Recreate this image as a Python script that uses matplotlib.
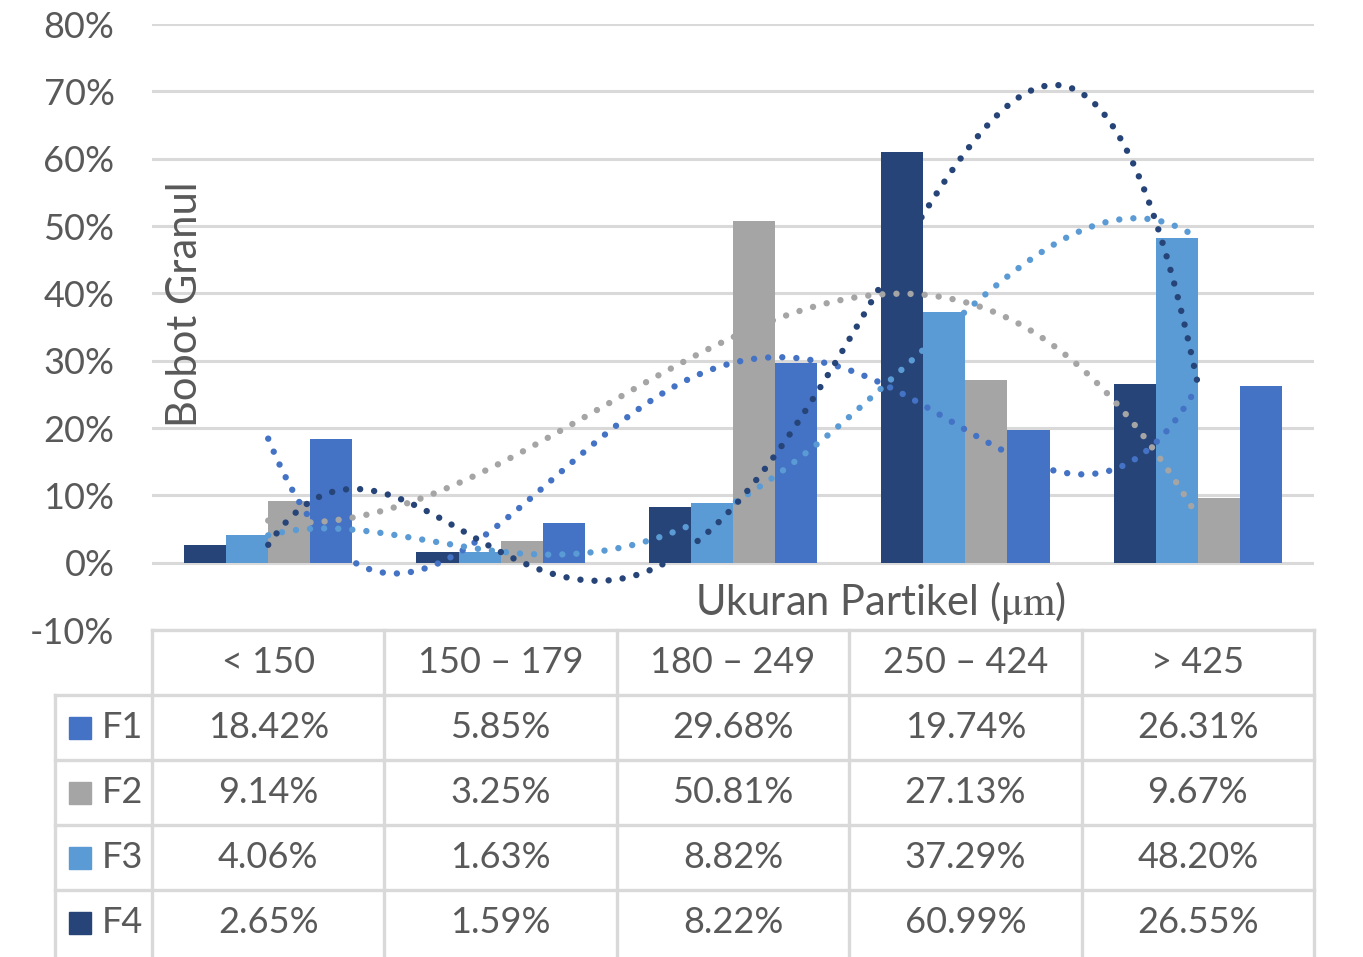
import numpy as np
import matplotlib.pyplot as plt
from matplotlib.lines import Line2D
from matplotlib.patches import Rectangle

plt.rcParams['font.family'] = ['Lato', 'DejaVu Sans']
plt.rcParams['mathtext.fontset'] = 'stix'

categories = ['< 150', '150 – 179', '180 – 249', '250 – 424', '> 425']
series_names = ['F1', 'F2', 'F3', 'F4']
f1 = [18.42, 5.85, 29.68, 19.74, 26.31]
f2 = [9.14, 3.25, 50.81, 27.13, 9.67]
f3 = [4.06, 1.63, 8.82, 37.29, 48.20]
f4 = [2.65, 1.59, 8.22, 60.99, 26.55]
colors = {'F1': '#4472C4', 'F2': '#A5A5A5', 'F3': '#5B9BD5', 'F4': '#264478'}
values = {'F1': f1, 'F2': f2, 'F3': f3, 'F4': f4}
# polynomial trendline order per series
trend_order = {'F1': 4, 'F2': 3, 'F3': 4, 'F4': 4}

txt = '#595959'
grid_c = '#D9D9D9'
fs = 26
W, H = 1363, 957
fig = plt.figure(figsize=(W / 100, H / 100), dpi=100)

L, R, T, B = 152, 1314, 24, 630
ax = fig.add_axes([L / W, 1 - B / H, (R - L) / W, (B - T) / H])
x = np.arange(1, 6)
bw = 0.181
# bars drawn left-to-right F4, F3, F2, F1
for i, name in enumerate(['F4', 'F3', 'F2', 'F1']):
    ax.bar(x + (i - 1.5) * bw, values[name], width=bw, color=colors[name], zorder=2)

xs = np.linspace(1, 5, 400)
for name in ['F1', 'F2', 'F3', 'F4']:
    coef = np.polyfit(x, values[name], trend_order[name])
    ax.plot(xs, np.polyval(coef, xs), color=colors[name], lw=4.6,
            linestyle=(0, (0.01, 2.2)), dash_capstyle='round', zorder=3)

ax.set_xlim(0.5, 5.5)
ax.set_ylim(-10, 80)
ax.set_yticks(range(-10, 81, 10))
ax.set_yticklabels([f'{v}%' for v in range(-10, 81, 10)], color=txt, fontsize=fs)
ax.set_xticks([])
ax.tick_params(axis='y', length=0, pad=27)
ax.grid(axis='y', color=grid_c, lw=2.2, zorder=0)
for s in ax.spines.values():
    s.set_visible(False)

fig.text(880 / W, 1 - 603 / H, r'Ukuran Partikel ($\mathrm{\mu m}$)', ha='center', va='center',
         fontsize=30, color=txt)
fig.text(185 / W, 1 - 304 / H, 'Bobot Granul', ha='center', va='center',
         rotation=90, fontsize=30, color=txt)

# data table
tab = fig.add_axes([0, 0, 1, 1])
tab.set_xlim(0, W)
tab.set_ylim(H, 0)
tab.axis('off')
col_edges = np.linspace(L, R, 6)
row_edges = np.linspace(B, 955, 6)
leg_l = 55
lw_t = 2.4
tab.add_line(Line2D([L, R], [B, B], color=grid_c, lw=lw_t))
for yv in row_edges[1:5]:
    tab.add_line(Line2D([leg_l, R], [yv, yv], color=grid_c, lw=lw_t))
for xv in col_edges:
    tab.add_line(Line2D([xv, xv], [B, H], color=grid_c, lw=lw_t))
tab.add_line(Line2D([leg_l, leg_l], [row_edges[1], H], color=grid_c, lw=lw_t))

for j, c in enumerate(categories):
    tab.text((col_edges[j] + col_edges[j + 1]) / 2, (row_edges[0] + row_edges[1]) / 2, c,
             ha='center', va='center', fontsize=fs, color=txt)
for i, name in enumerate(series_names):
    yc = (row_edges[i + 1] + row_edges[i + 2]) / 2
    tab.add_patch(Rectangle((69, yc - 11), 22, 22, color=colors[name]))
    tab.text(102, yc, name, ha='left', va='center', fontsize=fs, color=txt)
    for j, v in enumerate(values[name]):
        tab.text((col_edges[j] + col_edges[j + 1]) / 2, yc, f'{v:.2f}%',
                 ha='center', va='center', fontsize=fs, color=txt)

fig.savefig('out.png', dpi=100)
